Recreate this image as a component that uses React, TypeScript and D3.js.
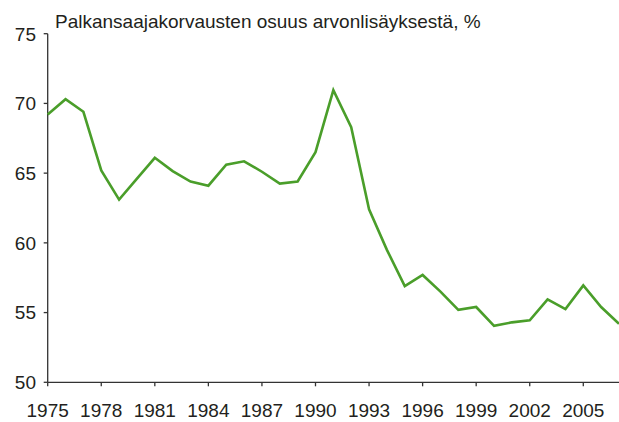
import React from "react";
import * as d3 from "d3";

const years: number[] = [
  1975, 1976, 1977, 1978, 1979, 1980, 1981, 1982, 1983, 1984, 1985, 1986, 1987,
  1988, 1989, 1990, 1991, 1992, 1993, 1994, 1995, 1996, 1997, 1998, 1999, 2000,
  2001, 2002, 2003, 2004, 2005, 2006, 2007,
];
const share: number[] = [
  69.2, 70.3, 69.4, 65.2, 63.1, 64.6, 66.1, 65.15, 64.4, 64.1, 65.6, 65.85, 65.1,
  64.25, 64.4, 66.5, 70.95, 68.3, 62.4, 59.5, 56.9, 57.7, 56.5, 55.2, 55.4, 54.05,
  54.3, 54.45, 55.95, 55.25, 56.95, 55.4, 54.2,
];
const xTicks: number[] = [1975, 1978, 1981, 1984, 1987, 1990, 1993, 1996, 1999, 2002, 2005];
const yTicks: number[] = [50, 55, 60, 65, 70, 75];
const title = "Palkansaajakorvausten osuus arvonlisäyksestä, %";

const W = 619;
const H = 422;
const left = 47.7;
const right = 619;
const top = 33.7;
const bottom = 382.3;

export default function App() {
  const x = d3.scaleLinear().domain([1975, 2007]).range([left, right]);
  const y = d3.scaleLinear().domain([50, 75]).range([bottom, top]);
  const line = d3
    .line<number>()
    .x((_, i) => x(years[i]))
    .y((d) => y(d));
  const font = "'Liberation Sans', Arial, sans-serif";
  const axisColor = "#333";
  const textColor = "#231f20";
  return (
    <svg
      width={W}
      height={H}
      style={{ position: "absolute", left: 0, top: 0, background: "#fff" }}
    >
      <text x={55} y={28} fontFamily={font} fontSize={19} fill={textColor}>
        {title}
      </text>
      {/* y axis */}
      <line x1={left} x2={left} y1={top} y2={bottom} stroke={axisColor} strokeWidth={1.3} />
      {yTicks.map((t) => (
        <g key={t}>
          <line x1={left - 4} x2={left} y1={y(t)} y2={y(t)} stroke={axisColor} strokeWidth={1.3} />
          <text
            x={36}
            y={y(t)}
            dy="0.36em"
            textAnchor="end"
            fontFamily={font}
            fontSize={19}
            fill={textColor}
          >
            {t}
          </text>
        </g>
      ))}
      {/* x axis */}
      <line x1={left} x2={right} y1={bottom} y2={bottom} stroke={axisColor} strokeWidth={1.3} />
      {xTicks.map((t) => (
        <g key={t}>
          <line x1={x(t)} x2={x(t)} y1={bottom} y2={bottom + 4} stroke={axisColor} strokeWidth={1.3} />
          <text
            x={x(t)}
            y={417}
            textAnchor="middle"
            fontFamily={font}
            fontSize={19}
            fill={textColor}
          >
            {t}
          </text>
        </g>
      ))}
      <path d={line(share) || ""} fill="none" stroke="#4a9e2a" strokeWidth={2.6} strokeLinejoin="miter" />
    </svg>
  );
}
